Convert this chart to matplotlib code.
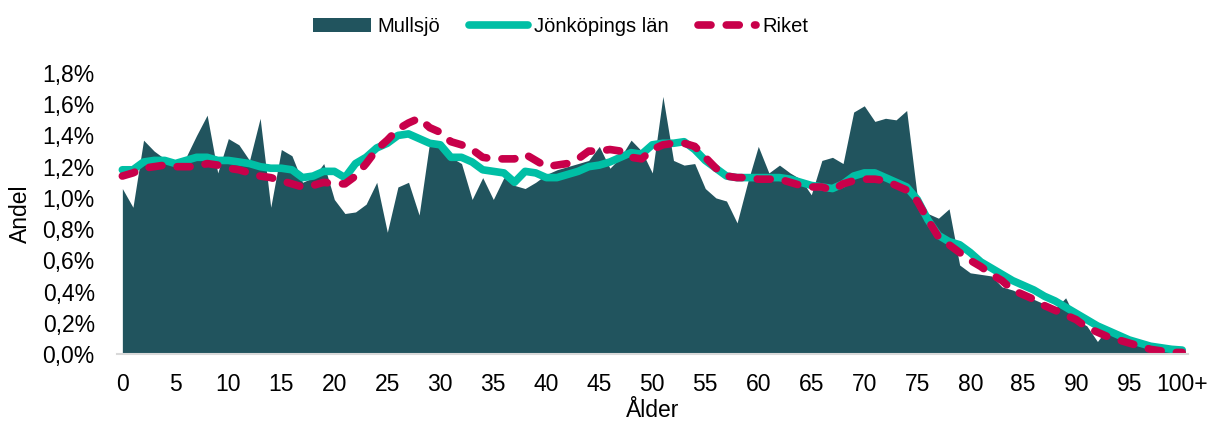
import matplotlib
matplotlib.use("Agg")
import matplotlib.pyplot as plt
import numpy as np

plt.rcParams['font.family'] = ['Liberation Sans', 'DejaVu Sans']

ages = list(range(0, 101))
tick_labels = ['0', '5', '10', '15', '20', '25', '30', '35', '40', '45', '50',
               '55', '60', '65', '70', '75', '80', '85', '90', '95', '100+']

mullsjo = [1.06, 0.94, 1.37, 1.30, 1.25, 1.22, 1.26, 1.40, 1.53, 1.16,
           1.38, 1.34, 1.24, 1.51, 0.94, 1.31, 1.27, 1.10, 1.13, 1.22,
           0.99, 0.90, 0.91, 0.96, 1.10, 0.78, 1.07, 1.10, 0.89, 1.36,
           1.33, 1.26, 1.22, 0.99, 1.13, 0.99, 1.13, 1.08, 1.06, 1.10,
           1.15, 1.18, 1.20, 1.22, 1.24, 1.33, 1.19, 1.26, 1.37, 1.30,
           1.16, 1.65, 1.24, 1.21, 1.22, 1.06, 1.00, 0.98, 0.84, 1.10,
           1.33, 1.16, 1.21, 1.16, 1.12, 1.02, 1.24, 1.26, 1.22, 1.55,
           1.59, 1.49, 1.51, 1.50, 1.56, 1.01, 0.90, 0.87, 0.93, 0.57,
           0.52, 0.51, 0.50, 0.43, 0.41, 0.38, 0.35, 0.32, 0.29, 0.36,
           0.22, 0.18, 0.08, 0.17, 0.11, 0.08, 0.05, 0.06, 0.03, 0.02,
           0.01]

jonkoping = [1.18, 1.18, 1.23, 1.24, 1.24, 1.22, 1.24, 1.26, 1.26, 1.24,
             1.24, 1.23, 1.22, 1.20, 1.19, 1.19, 1.18, 1.13, 1.14, 1.17,
             1.17, 1.13, 1.22, 1.26, 1.32, 1.35, 1.40, 1.41, 1.38, 1.35,
             1.34, 1.26, 1.26, 1.23, 1.18, 1.17, 1.16, 1.10, 1.17, 1.16,
             1.13, 1.13, 1.15, 1.17, 1.20, 1.21, 1.23, 1.26, 1.29, 1.28,
             1.34, 1.35, 1.35, 1.36, 1.31, 1.24, 1.19, 1.14, 1.13, 1.13,
             1.13, 1.13, 1.13, 1.12, 1.10, 1.08, 1.07, 1.06, 1.09, 1.14,
             1.16, 1.16, 1.13, 1.10, 1.07, 0.99, 0.86, 0.76, 0.72, 0.70,
             0.65, 0.59, 0.55, 0.51, 0.47, 0.44, 0.41, 0.37, 0.34, 0.30,
             0.26, 0.22, 0.18, 0.15, 0.12, 0.09, 0.07, 0.05, 0.04, 0.03,
             0.025]

riket = [1.14, 1.16, 1.19, 1.20, 1.21, 1.20, 1.20, 1.20, 1.22, 1.21,
         1.19, 1.18, 1.16, 1.14, 1.13, 1.11, 1.09, 1.07, 1.08, 1.10,
         1.09, 1.09, 1.14, 1.22, 1.31, 1.37, 1.44, 1.48, 1.51, 1.45,
         1.42, 1.36, 1.34, 1.31, 1.26, 1.25, 1.25, 1.25, 1.28, 1.24,
         1.20, 1.21, 1.22, 1.25, 1.30, 1.30, 1.31, 1.30, 1.26, 1.25,
         1.31, 1.34, 1.35, 1.35, 1.33, 1.26, 1.19, 1.14, 1.13, 1.13,
         1.12, 1.12, 1.12, 1.10, 1.08, 1.07, 1.07, 1.05, 1.09, 1.11,
         1.12, 1.12, 1.11, 1.08, 1.05, 0.98, 0.86, 0.75, 0.70, 0.65,
         0.60, 0.56, 0.51, 0.47, 0.41, 0.38, 0.35, 0.31, 0.28, 0.25,
         0.22, 0.17, 0.14, 0.11, 0.09, 0.07, 0.05, 0.03, 0.02, 0.01,
         0.01]

c_area = '#21545E'
c_jkp = '#00BFA5'
c_rik = '#C8004A'

fig = plt.figure(figsize=(12.13, 4.28), dpi=100)
ax = fig.add_axes([0.0965, 0.1729, 0.8825, 0.6565])

x = np.array(ages)
ax.fill_between(x, 0, mullsjo, color=c_area, linewidth=0, label='Mullsjö', zorder=2)
ax.plot(x, jonkoping, color=c_jkp, linewidth=5.5, solid_capstyle='round',
        solid_joinstyle='round', label='Jönköpings län', zorder=3)
ax.plot(x, riket, color=c_rik, linewidth=5.5, dashes=(1.7, 2.0),
        dash_capstyle='round', label='Riket', zorder=4)

ax.set_xlim(-0.5, 100.5)
ax.set_ylim(0, 1.8)
ax.set_xticks(range(0, 101, 5))
ax.set_xticklabels(tick_labels)
yt = np.arange(0, 1.81, 0.2)
ax.set_yticks(yt)
ax.set_yticklabels([f"{v:.1f}%".replace('.', ',') for v in yt])
ax.tick_params(axis='both', length=0, labelsize=16.5, colors='black')
ax.tick_params(axis='x', pad=14)
ax.tick_params(axis='y', pad=16)

for s in ['top', 'right', 'left']:
    ax.spines[s].set_visible(False)
ax.spines['bottom'].set_color('#D9D9D9')
ax.spines['bottom'].set_linewidth(1.5)
ax.spines['bottom'].set_zorder(5)

ax.set_xlabel('Ålder', fontsize=16.5, labelpad=2)
ax.set_ylabel('Andel', fontsize=16.5, labelpad=8)

leg = fig.legend(loc='center', bbox_to_anchor=(0.462, 0.938), ncol=3, frameon=False,
                 fontsize=14.5, handlelength=2.9, handletextpad=0.3, columnspacing=1.45)

fig.savefig('out.png', dpi=100)
